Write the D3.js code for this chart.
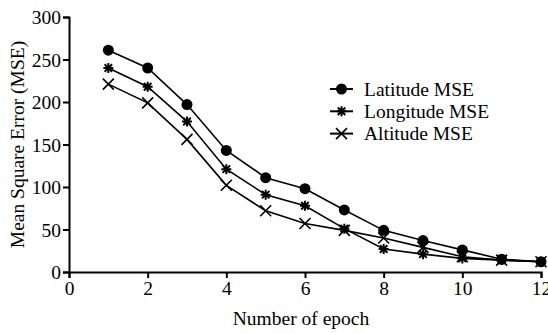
<!DOCTYPE html>
<html>
<head>
<meta charset="utf-8">
<script src="https://cdn.jsdelivr.net/npm/d3@7"></script>
<style>
  html, body { margin: 0; padding: 0; background: #fff; }
  svg { display: block; }
</style>
</head>
<body>
<div id="chart"></div>
<script>
// ── Data ─────────────────────────────────────
const EPOCHS      = [1, 2, 3, 4, 5, 6, 7, 8, 9, 10, 11, 12];
const LATITUDE    = [261, 240, 197, 143, 111, 98, 73, 49, 37, 26, 15, 12];
const LONGITUDE   = [240, 218, 177, 121, 91, 78, 51, 27, 21, 16, 14, 12];
const ALTITUDE    = [221, 199, 156, 102, 72, 57, 49, 40, 29, 18, 14, 12];
const SERIES_NAMES = ["Latitude MSE", "Longitude MSE", "Altitude MSE"];
const X_TICKS     = [0, 2, 4, 6, 8, 10, 12];
const Y_TICKS     = [0, 50, 100, 150, 200, 250, 300];

const FONT = "Liberation Serif";
const FS   = "19.5px";
const W = 548, H = 333;
const margin = { top: 17, right: 7, bottom: 61, left: 69 };
const width  = W - margin.left - margin.right;
const height = H - margin.top - margin.bottom;

const svg = d3.select("#chart").append("svg").attr("width", W).attr("height", H)
  .attr("font-family", FONT);
const g = svg.append("g").attr("transform", `translate(${margin.left},${margin.top})`);

const x = d3.scaleLinear().domain([0, 12]).range([0, width]);
const y = d3.scaleLinear().domain([0, 300]).range([height, 0]);

const series = [
  { name: SERIES_NAMES[0], values: LATITUDE,  marker: "circle" },
  { name: SERIES_NAMES[1], values: LONGITUDE, marker: "star" },
  { name: SERIES_NAMES[2], values: ALTITUDE,  marker: "cross" }
];

// marker drawing
function drawMarker(sel, type, cx, cy) {
  if (type === "circle") {
    sel.append("circle").attr("cx", cx).attr("cy", cy).attr("r", 5.5).attr("fill", "#000");
  } else if (type === "star") {
    const s = 5;
    const p = `M${cx - s},${cy}H${cx + s}M${cx},${cy - s}V${cy + s}` +
      `M${cx - s * 0.75},${cy - s * 0.75}L${cx + s * 0.75},${cy + s * 0.75}` +
      `M${cx - s * 0.75},${cy + s * 0.75}L${cx + s * 0.75},${cy - s * 0.75}`;
    sel.append("path").attr("d", p).attr("stroke", "#000").attr("stroke-width", 2).attr("fill", "none");
  } else {
    const s = 5.5;
    const p = `M${cx - s},${cy - s}L${cx + s},${cy + s}M${cx - s},${cy + s}L${cx + s},${cy - s}`;
    sel.append("path").attr("d", p).attr("stroke", "#000").attr("stroke-width", 1.6).attr("fill", "none");
  }
}

// Lines + markers
const line = d3.line().x((d, i) => x(EPOCHS[i])).y(d => y(d));
series.forEach(s => {
  g.append("path").datum(s.values).attr("d", line)
    .attr("fill", "none").attr("stroke", "#000").attr("stroke-width", 1.6);
});
series.forEach(s => {
  const mg = g.append("g");
  s.values.forEach((v, i) => drawMarker(mg, s.marker, x(EPOCHS[i]), y(v)));
});

// X axis
const xAxis = g.append("g").attr("transform", `translate(0,${height})`)
  .call(d3.axisBottom(x).tickValues(X_TICKS).tickSize(6).tickFormat(d3.format("d")));
xAxis.attr("font-family", FONT).attr("font-size", FS);
xAxis.select(".domain").attr("stroke", "#000").attr("stroke-width", 2);
xAxis.selectAll(".tick line").attr("stroke", "#000").attr("stroke-width", 2);
xAxis.selectAll("text").attr("dy", null).attr("y", 23)
  .style("font-family", FONT).style("font-size", FS).attr("fill", "#000");

// Y axis
const yAxis = g.append("g")
  .call(d3.axisLeft(y).tickValues(Y_TICKS).tickSize(6).tickPadding(2));
yAxis.attr("font-family", FONT).attr("font-size", FS);
yAxis.select(".domain").attr("stroke", "#000").attr("stroke-width", 2);
yAxis.selectAll(".tick line").attr("stroke", "#000").attr("stroke-width", 2);
yAxis.selectAll("text").attr("dy", null).attr("y", 6.5)
  .style("font-family", FONT).style("font-size", FS).attr("fill", "#000");

// Axis titles
svg.append("text").attr("x", 301).attr("y", 325)
  .attr("text-anchor", "middle").style("font-family", FONT).style("font-size", FS)
  .text("Number of epoch");
svg.append("text").attr("transform", "rotate(-90)")
  .attr("x", -(margin.top + height / 2)).attr("y", 24)
  .attr("text-anchor", "middle").style("font-family", FONT).style("font-size", FS)
  .text("Mean Square Error (MSE)");

// Legend
const legend = svg.append("g").attr("transform", "translate(330,89)")
  .attr("font-family", FONT);
series.forEach((s, i) => {
  const row = legend.append("g").attr("transform", `translate(0,${i * 22.3})`);
  row.append("line").attr("x1", 0).attr("x2", 23).attr("y1", 0).attr("y2", 0)
    .attr("stroke", "#000").attr("stroke-width", 2);
  drawMarker(row, s.marker, 11.5, 0);
  row.append("text").attr("x", 34).attr("y", 6.8)
    .style("font-family", FONT).style("font-size", FS).text(s.name);
});
</script>
</body>
</html>
